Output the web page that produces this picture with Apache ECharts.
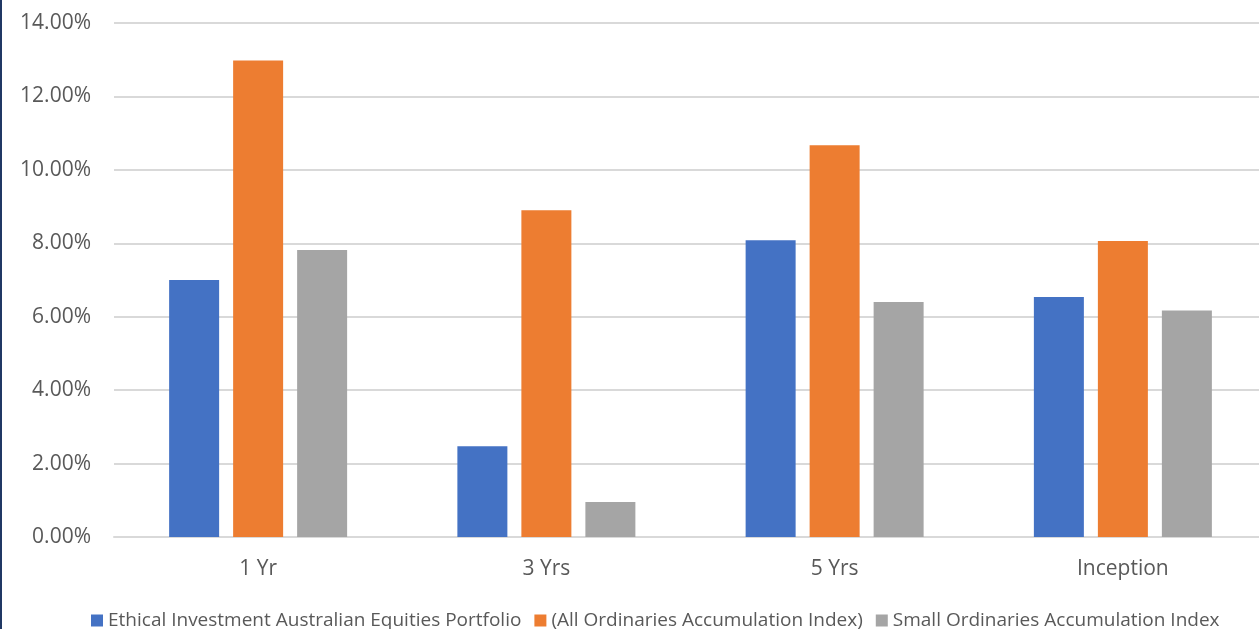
<!DOCTYPE html>
<html>
<head>
<meta charset="utf-8">
<script src="https://cdn.jsdelivr.net/npm/echarts@6/dist/echarts.min.js"></script>
<style>
html,body{margin:0;padding:0;background:#fff;}
#chart{width:1259px;height:629px;}
</style>
</head>
<body>
<div id="chart"></div>
<script>
const categories = ['1 Yr', '3 Yrs', '5 Yrs', 'Inception'];
const seriesNames = [
  'Ethical Investment Australian Equities Portfolio',
  '(All Ordinaries Accumulation Index)',
  'Small Ordinaries Accumulation Index'
];
const ethicalPortfolio = [7.00, 2.47, 8.08, 6.54];
const allOrdinaries = [12.98, 8.90, 10.67, 8.06];
const smallOrdinaries = [7.82, 0.95, 6.40, 6.17];
const yTicks = [0, 2, 4, 6, 8, 10, 12, 14];
const colors = ['#4472C4', '#ED7D31', '#A5A5A5'];

const chart = echarts.init(document.getElementById('chart'));
const font = '"Open Sans", "Noto Sans", sans-serif';
const values = [ethicalPortfolio, allOrdinaries, smallOrdinaries];

chart.setOption({
  animation: false,
  textStyle: { fontFamily: font },
  graphic: [{
    type: 'rect', left: 0, top: 0,
    shape: { width: 2, height: 629 },
    style: { fill: '#203864' }
  }],
  legend: {
    top: 611,
    left: 91,
    itemWidth: 12,
    itemHeight: 12,
    itemGap: 13,
    icon: 'rect',
    padding: 0,
    textStyle: { color: '#595959', fontSize: 19, fontFamily: font },
    data: seriesNames
  },
  grid: { left: 114, top: 23, width: 1153, height: 514, outerBoundsMode: 'none', containLabel: false },
  xAxis: {
    type: 'category',
    data: categories,
    axisLine: { show: true, lineStyle: { color: '#D9D9D9', width: 2 } },
    axisTick: { show: false },
    axisLabel: { color: '#595959', fontSize: 21, margin: 22, fontFamily: font }
  },
  yAxis: {
    type: 'value',
    min: yTicks[0],
    max: yTicks[yTicks.length - 1],
    interval: 2,
    axisLine: { show: false },
    axisTick: { show: false },
    splitLine: { lineStyle: { color: '#D9D9D9', width: 2 } },
    axisLabel: {
      color: '#595959', fontSize: 21, margin: 23, fontFamily: font,
      formatter: v => v.toFixed(2) + '%'
    }
  },
  series: seriesNames.map((name, i) => ({
    name: name,
    type: 'bar',
    data: values[i],
    barWidth: 50,
    barGap: '28%',
    itemStyle: { color: colors[i] }
  }))
});
</script>
</body>
</html>
